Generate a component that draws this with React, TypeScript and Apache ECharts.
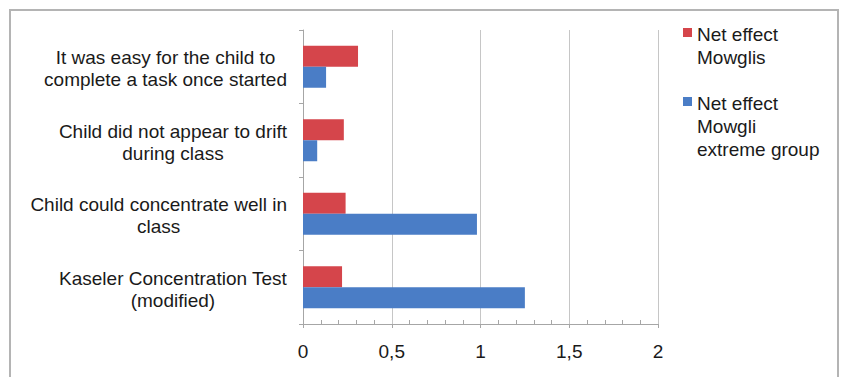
import React, { useEffect, useRef } from "react";
import * as echarts from "echarts";

const categories = [
  "It was easy for the child to\ncomplete a task once started",
  "Child did not appear to drift\nduring class",
  "Child could concentrate well in\nclass",
  "Kaseler Concentration Test\n(modified)",
];
const seriesNames = ["Net effect Mowglis", "Net effect Mowgli extreme group"];
const legendLabels = ["Net effect\nMowglis", "Net effect\nMowgli\nextreme group"];
const mowglis = [0.31, 0.23, 0.24, 0.22];
const mowgliExtreme = [0.13, 0.08, 0.98, 1.25];
const xTicks = [0, 0.5, 1, 1.5, 2];
const xTickLabels = ["0", "0,5", "1", "1,5", "2"];

const FONT = "'Liberation Sans', Arial, sans-serif";
const TEXT = "#1a1a1a";
const RED = "#d5454b";
const BLUE = "#4a7dc6";
const AXIS = "#a6a6a6";
const GRID = "#c6c6c6";
const LEGEND_LH = 23;

// Legend marker: a 9px square pinned to the top of a taller, otherwise empty box,
// so the swatch sits beside the first line of a wrapped legend label.
function topSquareIcon(boxHeight: number) {
  return `path://M0,0H9V9H0Z M0,${boxHeight}`;
}

export default function App() {
  const ref = useRef<HTMLDivElement>(null);

  useEffect(() => {
    if (!ref.current) return;
    const chart = echarts.init(ref.current, undefined, { renderer: "svg" });
    const legendItem = (idx: number, iconTop: number) => {
      const lines = legendLabels[idx].split("\n").length;
      const firstLineCenter = 6.5;
      const boxHeight = 2 * (firstLineCenter + ((lines - 1) * LEGEND_LH) / 2);
      return {
        orient: "vertical" as const,
        left: 683,
        top: iconTop + firstLineCenter - LEGEND_LH / 2,
        padding: 0,
        itemWidth: 9,
        itemHeight: boxHeight,
        itemGap: 4,
        selectedMode: false,
        data: [{ name: seriesNames[idx], icon: topSquareIcon(boxHeight) }],
        formatter: (name: string) => legendLabels[seriesNames.indexOf(name)],
        textStyle: {
          fontFamily: FONT,
          fontSize: 19,
          lineHeight: LEGEND_LH,
          color: TEXT,
        },
      };
    };
    chart.setOption({
      animation: false,
      backgroundColor: "#ffffff",
      textStyle: { fontFamily: FONT },
      graphic: [
        {
          type: "rect",
          shape: { x: 10, y: 10, width: 828, height: 400 },
          style: { fill: "none", stroke: "#b4b4b4", lineWidth: 2 },
          silent: true,
        },
      ],
      legend: [legendItem(0, 28), legendItem(1, 97)],
      grid: { left: 303, right: 186, top: 30, bottom: 53 },
      xAxis: {
        type: "value",
        min: 0,
        max: 2,
        interval: 0.5,
        axisLine: { show: true, lineStyle: { color: AXIS, width: 1 } },
        axisTick: { show: true, length: 4, lineStyle: { color: AXIS } },
        minorTick: { show: true, splitNumber: 5, length: -4, lineStyle: { color: AXIS } },
        splitLine: { show: true, lineStyle: { color: GRID, width: 1 } },
        axisLabel: {
          margin: 18,
          fontSize: 19,
          color: TEXT,
          fontFamily: FONT,
          formatter: (v: number) => {
            const i = xTicks.findIndex((t) => Math.abs(t - v) < 1e-9);
            return i >= 0 ? xTickLabels[i] : "";
          },
        },
      },
      yAxis: {
        type: "category",
        inverse: true,
        data: categories,
        axisLine: { show: true, lineStyle: { color: AXIS, width: 1 } },
        axisTick: { show: true, length: 4, lineStyle: { color: AXIS } },
        axisLabel: {
          margin: 16,
          color: TEXT,
          fontFamily: FONT,
          fontSize: 19,
          lineHeight: 22,
          padding: [4, 0, 0, 0],
          formatter: (v: string) =>
            v
              .split("\n")
              .map((l) => `{c|${l}}`)
              .join("\n"),
          rich: {
            c: {
              align: "center",
              fontSize: 19,
              lineHeight: 22,
              color: TEXT,
              fontFamily: FONT,
            },
          },
        },
      },
      series: [
        {
          name: seriesNames[0],
          type: "bar",
          data: mowglis,
          barWidth: 21,
          barGap: "0%",
          itemStyle: { color: RED },
        },
        {
          name: seriesNames[1],
          type: "bar",
          data: mowgliExtreme,
          barWidth: 21,
          barGap: "0%",
          itemStyle: { color: BLUE },
        },
      ],
    });
    return () => chart.dispose();
  }, []);

  return (
    <div
      ref={ref}
      style={{ position: "absolute", left: 0, top: 0, width: 844, height: 377 }}
    />
  );
}
